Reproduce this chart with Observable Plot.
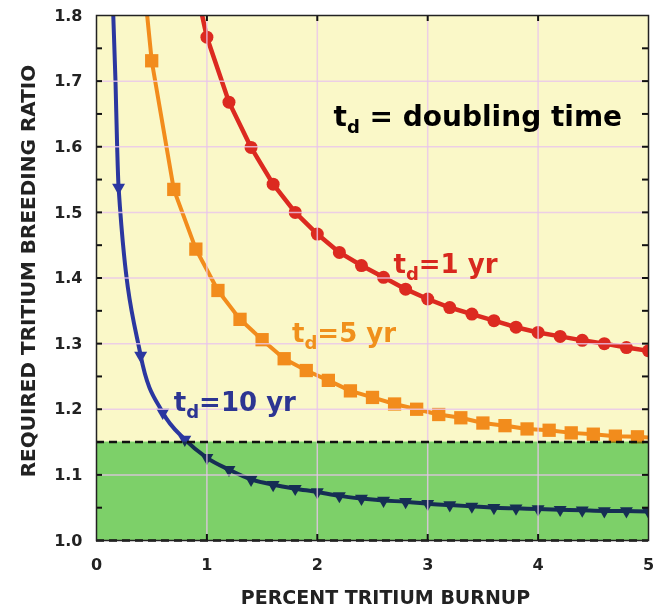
<!DOCTYPE html>
<html><head><meta charset="utf-8">
<script src="https://cdn.jsdelivr.net/npm/d3@7"></script>
<script src="https://cdn.jsdelivr.net/npm/@observablehq/plot@0.6"></script>
<style>body{margin:0;background:#fff}</style>
</head><body><div id="chart"></div>
<script>
// t_d = 1 yr (circles)
const redX = [1.0,1.2,1.4,1.6,1.8,2.0,2.2,2.4,2.6,2.8,3.0,3.2,3.4,3.6,3.8,4.0,4.2,4.4,4.6,4.8,5.0];
const redY = [1.767,1.668,1.599,1.543,1.500,1.467,1.439,1.419,1.401,1.383,1.368,1.355,1.345,1.335,1.325,1.317,1.311,1.305,1.300,1.294,1.289];
const redLeadX = [0.957];
const redLeadY = [1.8];
// t_d = 5 yr (squares)
const orangeX = [0.5,0.7,0.9,1.1,1.3,1.5,1.7,1.9,2.1,2.3,2.5,2.7,2.9,3.1,3.3,3.5,3.7,3.9,4.1,4.3,4.5,4.7,4.9];
const orangeY = [1.731,1.535,1.444,1.381,1.337,1.306,1.277,1.259,1.244,1.228,1.218,1.208,1.200,1.192,1.187,1.179,1.175,1.170,1.168,1.164,1.162,1.159,1.158];
const orangeLeadX = [0.459];
const orangeLeadY = [1.8];
const orangeTailX = [5.0];
const orangeTailY = [1.157];
// t_d = 10 yr (triangles)
const blueX = [0.2,0.4,0.6,0.8,1.0,1.2,1.4,1.6,1.8,2.0,2.2,2.4,2.6,2.8,3.0,3.2,3.4,3.6,3.8,4.0,4.2,4.4,4.6,4.8,5.0];
const blueY = [1.538,1.282,1.195,1.154,1.126,1.108,1.093,1.085,1.079,1.074,1.068,1.064,1.061,1.059,1.056,1.054,1.052,1.050,1.049,1.048,1.047,1.046,1.045,1.045,1.044];
const blueLeadX = [0.152,0.172,0.187];
const blueLeadY = [1.8,1.7,1.6];

const greenBand = [1.0, 1.15];
const dashLevels = [1.15, 1.0];
const gridY = [1.1,1.2,1.3,1.4,1.5,1.6,1.7];
const gridX = [1,2,3,4];
const minorY = [1.05,1.1,1.15,1.2,1.25,1.3,1.35,1.4,1.45,1.5,1.55,1.6,1.65,1.7,1.75];
const yTicks = [1.0,1.1,1.2,1.3,1.4,1.5,1.6,1.7,1.8];
const xTicks = [0,1,2,3,4,5];

const curveLabels = [
  {text: "t_d=1 yr", x: 2.69, y: 1.408, color: "#d8281e"},
  {text: "t_d=5 yr", x: 1.771, y: 1.302, color: "#f0901c"},
  {text: "t_d=10 yr", x: 0.70, y: 1.198, color: "#2c3592"}
];
const titleLabel = [{text: "t_d = doubling time", x: 2.147, y: 1.631}];

const pts = (xs, ys) => xs.map((x, i) => ({x, y: ys[i]}));
const redPts = pts(redX, redY);
const orangePts = pts(orangeX, orangeY);
const bluePts = pts(blueX, blueY);
const redLine = pts(redLeadX.concat(redX), redLeadY.concat(redY));
const orangeLine = pts(orangeLeadX.concat(orangeX, orangeTailX), orangeLeadY.concat(orangeY, orangeTailY));
const blueLine = pts(blueLeadX.concat(blueX), blueLeadY.concat(blueY));

const RED = "#dc2a20", ORANGE = "#f28c1c", BLUE = "#2b37a0";

const plot = Plot.plot({
  width: 655, height: 610,
  marginLeft: 96, marginRight: 7, marginTop: 15, marginBottom: 70,
  style: {fontFamily: "DejaVu Sans", fontWeight: "bold", fontSize: "16px", color: "#222", background: "#fff"},
  x: {domain: [0, 5], label: null},
  y: {domain: [1.0, 1.8], label: null},
  marks: [
    Plot.frame({fill: "#faf8c8"}),
    Plot.line(redLine, {x: "x", y: "y", stroke: RED, strokeWidth: 4.5, curve: "linear", clip: true}),
    Plot.line(orangeLine, {x: "x", y: "y", stroke: ORANGE, strokeWidth: 4, curve: "linear", clip: true}),
    Plot.line(blueLine, {x: "x", y: "y", stroke: BLUE, strokeWidth: 4, curve: "monotone-x", clip: true}),
    Plot.dot(redPts, {x: "x", y: "y", r: 6.5, fill: RED, symbol: "circle", clip: true}),
    Plot.dot(orangePts, {x: "x", y: "y", r: 7.5, fill: ORANGE, symbol: "square", clip: true}),
    Plot.dot(bluePts, {x: "x", y: "y", r: 4.8, fill: BLUE, symbol: "triangle", rotate: 180, clip: true}),
    Plot.rectY([greenBand], {y1: d => d[0], y2: d => d[1], fill: "rgb(128,214,134)", mixBlendMode: "multiply"}),
    Plot.ruleY(gridY, {stroke: "#e8c4ec", strokeWidth: 1.5, strokeOpacity: 0.8}),
    Plot.ruleX(gridX, {stroke: "#e8c4ec", strokeWidth: 1.5, strokeOpacity: 0.8}),
    Plot.ruleY(dashLevels, {stroke: "#111", strokeWidth: 2.5, strokeDasharray: "8,5"}),
    Plot.tickY(minorY, {y: d => d, insetRight: 546, stroke: "#111", strokeWidth: 2}),
    Plot.tickY(minorY, {y: d => d, insetLeft: 546, stroke: "#111", strokeWidth: 2}),
    Plot.tickX(gridX, {x: d => d, insetBottom: 519, stroke: "#111", strokeWidth: 2}),
    Plot.tickX(gridX, {x: d => d, insetTop: 519, stroke: "#111", strokeWidth: 2}),
    Plot.frame({stroke: "#222", strokeWidth: 1.5}),
    Plot.axisY(yTicks, {tickSize: 0, tickPadding: 14, tickFormat: d => d.toFixed(1), fill: "#222"}),
    Plot.axisX(xTicks, {tickSize: 0, tickPadding: 18, tickFormat: d => String(d), fill: "#222"}),
    Plot.text(curveLabels, {x: "x", y: "y", text: "text", fill: "color", textAnchor: "start", lineAnchor: "bottom", fontSize: 26, fontWeight: "bold"}),
    Plot.text(titleLabel, {x: "x", y: "y", text: "text", fill: "#000", textAnchor: "start", lineAnchor: "bottom", fontSize: 28, fontWeight: "bold"}),
    Plot.text(["REQUIRED TRITIUM BREEDING RATIO"], {frameAnchor: "left", rotate: -90, dx: -68, dy: -7, textAnchor: "middle", lineAnchor: "middle", fontSize: 20, fontWeight: "bold", fill: "#222"}),
    Plot.text(["PERCENT TRITIUM BURNUP"], {frameAnchor: "bottom", dx: 13, dy: 63, textAnchor: "middle", lineAnchor: "bottom", fontSize: 19, fontWeight: "bold", fill: "#222"})
  ]
});

// subscripts: "t_d" -> t with subscript d
d3.select(plot).selectAll("text").each(function() {
  const t = d3.select(this);
  if (!this.childNodes.length || this.querySelector("tspan")) return;
  const s = this.textContent;
  if (s.indexOf("_d") < 0) return;
  const size = parseFloat(t.attr("font-size") || getComputedStyle(this).fontSize) || 26;
  const parts = s.split("_d");
  t.text(null);
  t.append("tspan").text(parts[0]);
  t.append("tspan").text("d").attr("font-size", Math.round(size * 0.68)).attr("dy", Math.round(size * 0.27));
  t.append("tspan").text(parts[1]).attr("dy", -Math.round(size * 0.27));
});

document.getElementById("chart").appendChild(plot);
</script>
</body></html>
